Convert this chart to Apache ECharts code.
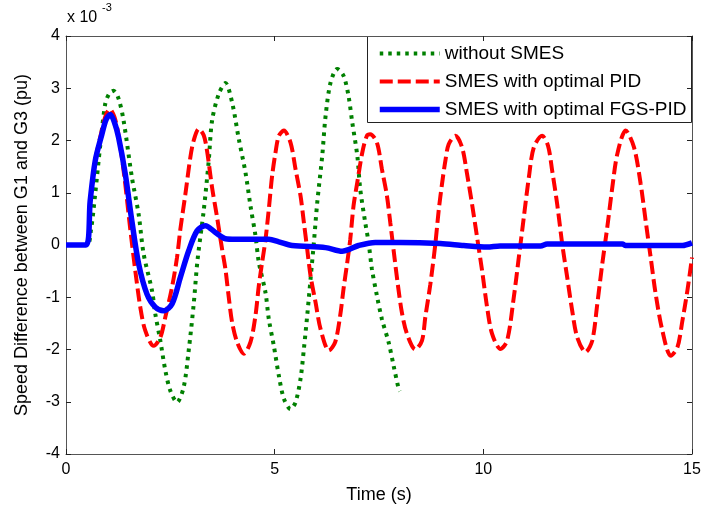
<!DOCTYPE html>
<html>
<head>
<meta charset="utf-8">
<script src="https://cdn.jsdelivr.net/npm/echarts@6/dist/echarts.min.js"></script>
<style>
  html, body { margin: 0; padding: 0; background: #fff; }
  #chart { width: 704px; height: 510px; }
</style>
</head>
<body>
<div id="chart"></div>
<script>
// Speed difference between G1 and G3 (x 10^-3 pu) versus time (s)
const xTicks = [0, 5, 10, 15];
const yTicks = [-4, -3, -2, -1, 0, 1, 2, 3, 4];
const seriesNames = ['without SMES', 'SMES with optimal PID', 'SMES with optimal FGS-PID'];

// without SMES
const tWithout = [0, 0.50, 0.60, 0.70, 0.82, 0.94, 1.04, 1.14, 1.26, 1.38, 1.58, 1.74, 1.86, 2.06, 2.14, 2.26, 2.38, 2.50, 2.66, 2.82, 2.94, 3.06, 3.15, 3.30, 3.42, 3.50, 3.66, 3.82, 3.98, 4.14, 4.30, 4.42, 4.54, 4.62, 4.78, 4.86, 4.98, 5.10, 5.22, 5.38, 5.50, 5.62, 5.70, 5.78, 5.86, 5.94, 6.02, 6.14, 6.22, 6.34, 6.50, 6.65, 6.77, 6.86, 6.98, 7.05, 7.17, 7.25, 7.33, 7.45, 7.57, 7.73, 7.85, 7.97, 8.00];
const vWithout = [0, 0, 0.30, 0.98, 1.90, 2.70, 2.90, 2.95, 2.80, 2.38, 1.29, 0.59, -0.17, -0.87, -1.32, -1.83, -2.40, -2.79, -3.01, -2.72, -2.02, -1.13, -0.30, 0.66, 1.61, 2.38, 2.89, 3.10, 2.73, 2.03, 1.39, 0.75, 0.18, -0.33, -0.91, -1.42, -1.93, -2.50, -2.94, -3.14, -3.01, -2.56, -1.99, -1.35, -0.65, 0.05, 0.81, 1.71, 2.47, 3.11, 3.37, 3.24, 2.85, 2.34, 1.71, 1.07, 0.43, 0.05, -0.46, -0.97, -1.42, -1.86, -2.31, -2.75, -2.80];

// SMES with optimal PID
const tPid = [0, 0.48, 0.58, 0.70, 0.86, 0.96, 1.05, 1.16, 1.26, 1.40, 1.54, 1.66, 1.78, 1.90, 2.10, 2.26, 2.38, 2.54, 2.66, 2.74, 2.86, 2.98, 3.06, 3.18, 3.30, 3.38, 3.50, 3.62, 3.74, 3.82, 3.90, 3.98, 4.10, 4.26, 4.42, 4.54, 4.62, 4.70, 4.78, 4.86, 4.94, 5.02, 5.10, 5.22, 5.38, 5.50, 5.62, 5.70, 5.78, 5.86, 5.98, 6.10, 6.30, 6.45, 6.57, 6.65, 6.74, 6.81, 6.89, 6.98, 7.10, 7.21, 7.29, 7.45, 7.57, 7.69, 7.77, 7.85, 7.95, 8.05, 8.17, 8.37, 8.53, 8.61, 8.73, 8.85, 8.93, 9.01, 9.09, 9.17, 9.33, 9.49, 9.61, 9.73, 9.85, 9.97, 10.09, 10.21, 10.41, 10.57, 10.73, 10.85, 10.97, 11.09, 11.21, 11.41, 11.55, 11.65, 11.77, 11.89, 12.01, 12.13, 12.25, 12.45, 12.61, 12.73, 12.85, 12.97, 13.09, 13.21, 13.41, 13.61, 13.77, 13.89, 14.01, 14.13, 14.29, 14.49, 14.65, 14.77, 14.89, 15.00];
const vPid = [0, 0, 0.85, 1.61, 2.20, 2.50, 2.60, 2.45, 2.10, 1.30, 0.30, -0.49, -1.19, -1.64, -1.93, -1.77, -1.38, -0.81, -0.24, 0.30, 0.97, 1.68, 2.00, 2.22, 2.10, 1.80, 1.10, 0.53, -0.08, -0.46, -1.00, -1.48, -1.86, -2.08, -1.86, -1.35, -0.78, -0.33, 0.10, 0.69, 1.33, 1.77, 2.09, 2.19, 1.96, 1.45, 0.94, 0.43, -0.08, -0.59, -1.10, -1.61, -2.02, -1.86, -1.35, -0.84, -0.33, 0.10, 0.75, 1.20, 1.77, 2.09, 2.12, 1.96, 1.45, 0.94, 0.43, -0.10, -0.75, -1.30, -1.70, -2.00, -1.83, -1.38, -0.75, 0.02, 0.66, 1.17, 1.61, 1.93, 2.09, 1.87, 1.36, 0.78, 0.15, -0.49, -1.19, -1.70, -1.99, -1.83, -1.00, -0.24, 0.53, 1.29, 1.87, 2.09, 1.90, 1.42, 0.78, 0.02, -0.62, -1.26, -1.77, -2.05, -1.83, -1.13, -0.36, 0.34, 1.10, 1.74, 2.19, 1.87, 1.17, 0.46, -0.24, -0.94, -1.64, -2.12, -1.96, -1.45, -0.87, -0.24];

// SMES with optimal FGS-PID
const tFgs = [0, 0.48, 0.58, 0.70, 0.86, 0.96, 1.06, 1.16, 1.26, 1.42, 1.58, 1.74, 1.94, 2.14, 2.34, 2.54, 2.74, 2.94, 3.14, 3.34, 3.58, 3.82, 4.06, 4.86, 5.10, 5.42, 6.22, 6.62, 6.80, 7.01, 7.41, 8.00, 8.97, 9.53, 10.09, 10.40, 11.37, 11.53, 13.33, 13.40, 14.77, 15.00];
const vFgs = [0, 0, 0.85, 1.61, 2.12, 2.40, 2.50, 2.35, 2.06, 1.36, 0.45, -0.36, -0.94, -1.19, -1.26, -1.13, -0.62, -0.11, 0.27, 0.37, 0.24, 0.12, 0.11, 0.11, 0.06, -0.01, -0.05, -0.12, -0.08, -0.01, 0.05, 0.05, 0.03, -0.01, -0.04, -0.02, -0.02, 0.02, 0.02, -0.01, -0.01, 0.04];

const zip = (ts, vs) => ts.map((t, i) => [t, vs[i]]);

const font = 'Liberation Sans, Arial, sans-serif';
const frame = { show: true, onZero: false, lineStyle: { color: '#555', width: 1 } };
const innerTick = { show: true, inside: true, length: 5, lineStyle: { color: '#222', width: 1 } };

const chart = echarts.init(document.getElementById('chart'), null, { renderer: 'canvas' });

chart.setOption({
  animation: false,
  backgroundColor: '#fff',
  textStyle: { fontFamily: font, color: '#000' },
  grid: { left: 66, right: 12, top: 36, bottom: 56, containLabel: false },
  xAxis: [
    {
      type: 'value', position: 'bottom',
      min: xTicks[0], max: xTicks[xTicks.length - 1], interval: 5,
      axisLine: frame, axisTick: innerTick, splitLine: { show: false },
      axisLabel: { fontSize: 16, color: '#000', margin: 8, fontFamily: font },
      name: 'Time (s)', nameLocation: 'middle', nameGap: 32,
      nameTextStyle: { fontSize: 18, color: '#000', fontFamily: font }
    },
    {
      type: 'value', position: 'top',
      min: xTicks[0], max: xTicks[xTicks.length - 1], interval: 5,
      axisLine: frame, axisTick: innerTick, splitLine: { show: false },
      axisLabel: { show: false }
    }
  ],
  yAxis: [
    {
      type: 'value', position: 'left',
      min: yTicks[0], max: yTicks[yTicks.length - 1], interval: 1,
      axisLine: frame, axisTick: innerTick, splitLine: { show: false },
      axisLabel: { fontSize: 16, color: '#000', margin: 6, fontFamily: font },
      name: 'Speed Difference between G1 and G3 (pu)', nameLocation: 'middle', nameGap: 35, nameRotate: 90,
      nameTextStyle: { fontSize: 18, color: '#000', fontFamily: font }
    },
    {
      type: 'value', position: 'right',
      min: yTicks[0], max: yTicks[yTicks.length - 1], interval: 1,
      axisLine: frame, axisTick: innerTick, splitLine: { show: false },
      axisLabel: { show: false }
    }
  ],
  legend: {
    orient: 'vertical', left: 377, top: 44, padding: 0,
    itemWidth: 60, itemHeight: 18, itemGap: 9,
    itemStyle: { opacity: 0 },
    lineStyle: { width: 'inherit', type: 'inherit', cap: 'butt' },
    textStyle: { fontSize: 19, color: '#000', fontFamily: font, lineHeight: 18 },
    data: seriesNames
  },
  graphic: [
    {
      type: 'rect', z: 0,
      shape: { x: 367.5, y: 36.5, width: 324, height: 86 },
      style: { fill: '#fff', stroke: '#222', lineWidth: 1 }
    },
    {
      type: 'text', left: 67, top: 10,
      style: { text: 'x 10', fontSize: 16, fill: '#000', font: '16px ' + font }
    },
    {
      type: 'text', left: 102, top: 2,
      style: { text: '-3', fontSize: 11, fill: '#000', font: '11px ' + font }
    }
  ],
  series: [
    {
      name: seriesNames[0], type: 'line', data: zip(tWithout, vWithout),
      showSymbol: false, symbol: 'none', smooth: 0.3,
      lineStyle: { color: '#008000', width: 4, type: [3.5, 5], cap: 'butt' },
      itemStyle: { color: '#008000' }
    },
    {
      name: seriesNames[1], type: 'line', data: zip(tPid, vPid),
      showSymbol: false, symbol: 'none', smooth: 0.3,
      lineStyle: { color: '#ff0000', width: 4, type: [13, 5], cap: 'butt' },
      itemStyle: { color: '#ff0000' }
    },
    {
      name: seriesNames[2], type: 'line', data: zip(tFgs, vFgs),
      showSymbol: false, symbol: 'none', smooth: 0.3,
      lineStyle: { color: '#0000ff', width: 5.5, type: 'solid' },
      itemStyle: { color: '#0000ff' }
    }
  ]
});
</script>
</body>
</html>
